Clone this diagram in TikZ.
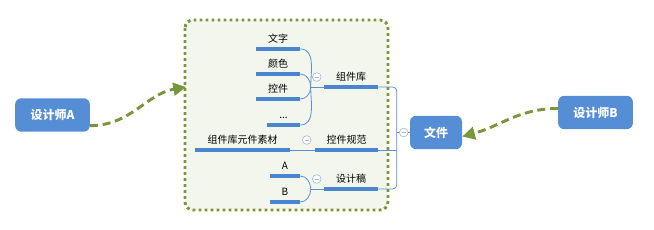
\documentclass[tikz,border=0pt]{standalone}
\usepackage{fontspec}
\setmainfont{Noto Sans CJK SC}
\usetikzlibrary{arrows.meta, positioning, calc}

\definecolor{nodeblue}{RGB}{85,142,213}
\definecolor{lineblue}{RGB}{91,143,212}
\definecolor{ulblue}{RGB}{74,134,208}
\definecolor{olivegreen}{RGB}{122,150,58}
\definecolor{boxfill}{RGB}{243,246,236}
\definecolor{ringblue}{RGB}{165,185,225}

\begin{document}
\begin{tikzpicture}[x=0.75pt, y=-0.75pt,
    person/.style={rectangle, rounded corners=4.5pt, fill=nodeblue, text=white,
      font=\fontsize{9}{11}\selectfont\bfseries, minimum width=56pt, minimum height=25pt, inner sep=0},
    topic/.style={anchor=south, inner xsep=0, inner ysep=3.5pt, text height=6.5pt, text depth=1pt,
      font=\fontsize{7.5}{9}\selectfont},
    uline/.style={ulblue, line width=2.3pt},
    link/.style={lineblue, line width=0.6pt},
    collapse/.style={circle, draw=ringblue, fill=white, line width=0.5pt, minimum size=6.5pt, inner sep=0,
      path picture={\draw[ringblue, line width=0.5pt]
        ([xshift=-1.6pt]path picture bounding box.center) -- ([xshift=1.6pt]path picture bounding box.center);}},
    flow/.style={olivegreen, line width=2.2pt, dash pattern=on 6pt off 3.5pt,
      -{Triangle[length=9.5pt,width=9.5pt]}},
    groupbox/.style={draw=olivegreen, fill=boxfill, line width=2.2pt, dash pattern=on 2.2pt off 2.3pt,
      rounded corners=6pt}
  ]
    \useasboundingbox (0,0) rectangle (654,229);

    % Group frame
    \draw[groupbox] (185,20) rectangle (388,210);
    \coordinate (ga) at (186,87);

    % Designers and file
    \node[person] (dsA) at (52.5,115) {设计师A};
    \node[person] (dsB) at (595.5,112.5) {设计师B};
    \node[person, minimum width=39pt] (wj) at (436,132.5) {文件};

    % Topics
    \node[topic, minimum width=33pt] (wz) at (278,49) {文字};
    \node[topic, minimum width=33pt] (ys) at (278,74) {颜色};
    \node[topic, minimum width=33pt] (kj) at (278,99) {控件};
    \node[topic, minimum width=24.75pt] (dd) at (283.5,125) {...};
    \node[topic, minimum width=40.5pt] (zjk) at (351,87) {组件库};
    \node[topic, minimum width=71.25pt] (ysc) at (242.5,150) {组件库元件素材};
    \node[topic, minimum width=47.25pt] (kjgf) at (346.5,150) {控件规范};
    \node[topic, minimum width=22.5pt] (ta) at (285,176) {A};
    \node[topic, minimum width=22.5pt] (tb) at (285,202) {B};
    \node[topic, minimum width=40.5pt] (sjg) at (351,189) {设计稿};

    \foreach \n in {wz,ys,kj,dd,zjk,ysc,kjgf,ta,tb,sjg}
      \draw[uline] (\n.south west) -- (\n.south east);

    % Branch links
    \coordinate (jk) at ($(zjk.south west)+(-13,0)$);
    \coordinate (js) at ($(sjg.south west)+(-13,0)$);
    \coordinate (bx) at ($(wj.west)+(-13,0)$);

    \draw[link] (wz.south east) to[out=0, in=90] (jk);
    \draw[link] (ys.south east) to[out=0, in=90] (jk);
    \draw[link] (kj.south east) to[out=0, in=-90] (jk);
    \draw[link] (dd.south east) to[out=0, in=-90] (jk);
    \draw[link] (jk) -- (zjk.south west);

    \draw[link] (ysc.south east) -- (kjgf.south west);

    \draw[link] (ta.south east) to[out=0, in=90] (js);
    \draw[link] (tb.south east) to[out=0, in=-90] (js);
    \draw[link] (js) -- (sjg.south west);

    \draw[link, rounded corners=3pt] (zjk.south east) -| (bx) |- (sjg.south east);
    \draw[link] (kjgf.south east) -- (kjgf.south east -| bx);

    % Collapse marks
    \node[collapse] (cz) at ($(zjk.south west)+(-7,-10)$) {};
    \node[collapse] (ck) at ($(kjgf.south west)+(-8,-10)$) {};
    \node[collapse] (cs) at ($(sjg.south west)+(-7,-10)$) {};
    \node[collapse] (cw) at ($(wj.west)+(-6,0)$) {};
    \draw[link] (bx) -- (cw);
    \draw[link] (cw) -- (wj);

    % Hand-over arrows
    \draw[flow] ([yshift=-8pt]dsA.east) to[out=0, in=190] (ga);
    \draw[flow] ([yshift=3pt]dsB.west) to[out=180, in=15] ([yshift=-3pt]wj.east);
\end{tikzpicture}
\end{document}
